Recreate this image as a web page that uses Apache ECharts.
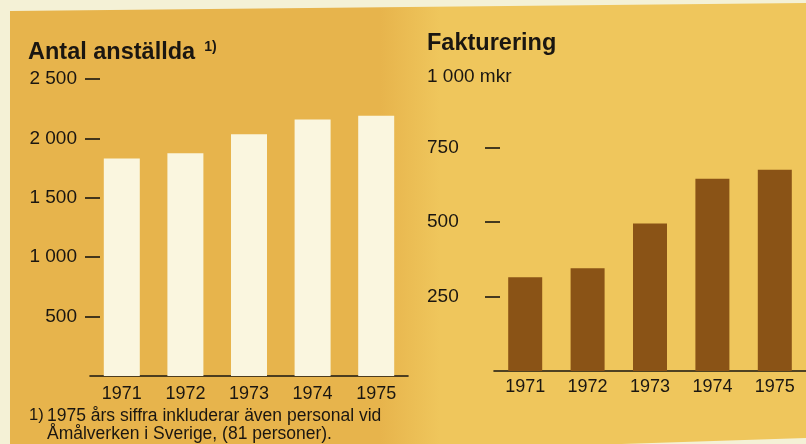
<!DOCTYPE html>
<html>
<head>
<meta charset="utf-8">
<script src="https://cdn.jsdelivr.net/npm/echarts@6/dist/echarts.min.js"></script>
<style>
html,body{margin:0;padding:0;background:#f4f1d6;}
#c{width:806px;height:444px;}
</style>
</head>
<body>
<div id="c"></div>
<script>
// Data
const years = ['1971', '1972', '1973', '1974', '1975'];
const employees = [1830, 1875, 2035, 2160, 2190];
const invoicing = [315, 345, 495, 645, 675];
const employeeTicks = [500, 1000, 1500, 2000, 2500];
const invoicingTicks = [250, 500, 750];
const invoicingLabels = [250, 500, 750, 1000];

const TXT = '#1a1611';
const FONT = '"Liberation Sans", Arial, Helvetica, sans-serif';

function fmtThousands(v) {
  const s = String(v);
  return s.length > 3 ? s.slice(0, s.length - 3) + ' ' + s.slice(-3) : s;
}

const chart = echarts.init(document.getElementById('c'), null, {renderer: 'canvas'});
chart.setOption({
  backgroundColor: '#f4f1d6',
  animation: false,
  textStyle: {fontFamily: FONT, color: TXT},
  graphic: [
    {
      type: 'polygon', z: -10,
      shape: {points: [[10, 11], [806, 3], [806, 438], [560, 446], [10, 446]]},
      style: {
        fill: new echarts.graphic.LinearGradient(380, 0, 440, 0, [
          {offset: 0, color: '#e7b44c'},
          {offset: 1, color: '#efc65c'}
        ], true)
      }
    }
  ],
  title: [
    {
      left: 28, top: 40, padding: 0,
      text: '{a|Antal anställda}{s|1)}',
      textStyle: {
        rich: {
          a: {fontFamily: FONT, fontWeight: 'bold', fontSize: 23.5, color: TXT},
          s: {fontFamily: FONT, fontWeight: 'bold', fontSize: 14, color: TXT, verticalAlign: 'top', padding: [0, 0, 11, 9]}
        }
      }
    },
    {
      left: 427, top: 32, padding: 0,
      text: 'Fakturering',
      textStyle: {fontFamily: FONT, fontWeight: 'bold', fontSize: 23.5, color: TXT}
    },
    {
      left: 29, top: 406.5, padding: 0,
      text: '1)',
      textStyle: {fontFamily: FONT, fontWeight: 'normal', fontSize: 16.5, lineHeight: 18.5, color: TXT}
    },
    {
      left: 47, top: 406.5, padding: 0,
      text: '1975 års siffra inkluderar även personal vid\nÅmålverken i Sverige, (81 personer).',
      textStyle: {fontFamily: FONT, fontWeight: 'normal', fontSize: 17.5, lineHeight: 18.5, color: TXT}
    }
  ],
  grid: [
    {left: 90, top: 79, width: 318, bottom: 68},
    {left: 494, top: 73, width: 316, bottom: 73}
  ],
  xAxis: [
    {
      type: 'category', gridIndex: 0, data: years,
      axisLine: {show: true, lineStyle: {color: TXT, width: 1.6}},
      axisTick: {show: false},
      axisLabel: {color: TXT, fontFamily: FONT, fontSize: 18, margin: 9}
    },
    {
      type: 'category', gridIndex: 1, data: years,
      axisLine: {show: true, lineStyle: {color: TXT, width: 1.6}},
      axisTick: {show: false},
      axisLabel: {color: TXT, fontFamily: FONT, fontSize: 18, margin: 7}
    }
  ],
  yAxis: [
    {
      type: 'value', gridIndex: 0, min: 0, max: 2500, interval: 500, offset: -10,
      splitLine: {show: false},
      axisLine: {show: false},
      axisTick: {show: true, length: 15, customValues: employeeTicks, lineStyle: {color: TXT, width: 1.6}},
      axisLabel: {color: TXT, fontFamily: FONT, fontSize: 19, margin: 23, customValues: employeeTicks,
        formatter: v => fmtThousands(v)}
    },
    {
      type: 'value', gridIndex: 1, min: 0, max: 1000, interval: 250, offset: -6,
      splitLine: {show: false},
      axisLine: {show: false},
      axisTick: {show: true, length: 15, customValues: invoicingTicks, lineStyle: {color: TXT, width: 1.6}},
      axisLabel: {color: TXT, fontFamily: FONT, fontSize: 19, margin: 73, align: 'left', customValues: invoicingLabels,
        formatter: v => v === 1000 ? '{u|' + fmtThousands(v) + ' mkr}' : String(v),
        rich: {u: {fontFamily: FONT, fontSize: 19, color: TXT, padding: [8, 0, 0, 0]}}}
    }
  ],
  series: [
    {
      type: 'bar', xAxisIndex: 0, yAxisIndex: 0, data: employees, barWidth: 36,
      itemStyle: {color: '#faf6df'}
    },
    {
      type: 'bar', xAxisIndex: 1, yAxisIndex: 1, data: invoicing, barWidth: 34,
      itemStyle: {color: '#8a5316'}
    }
  ]
});
</script>
</body>
</html>
